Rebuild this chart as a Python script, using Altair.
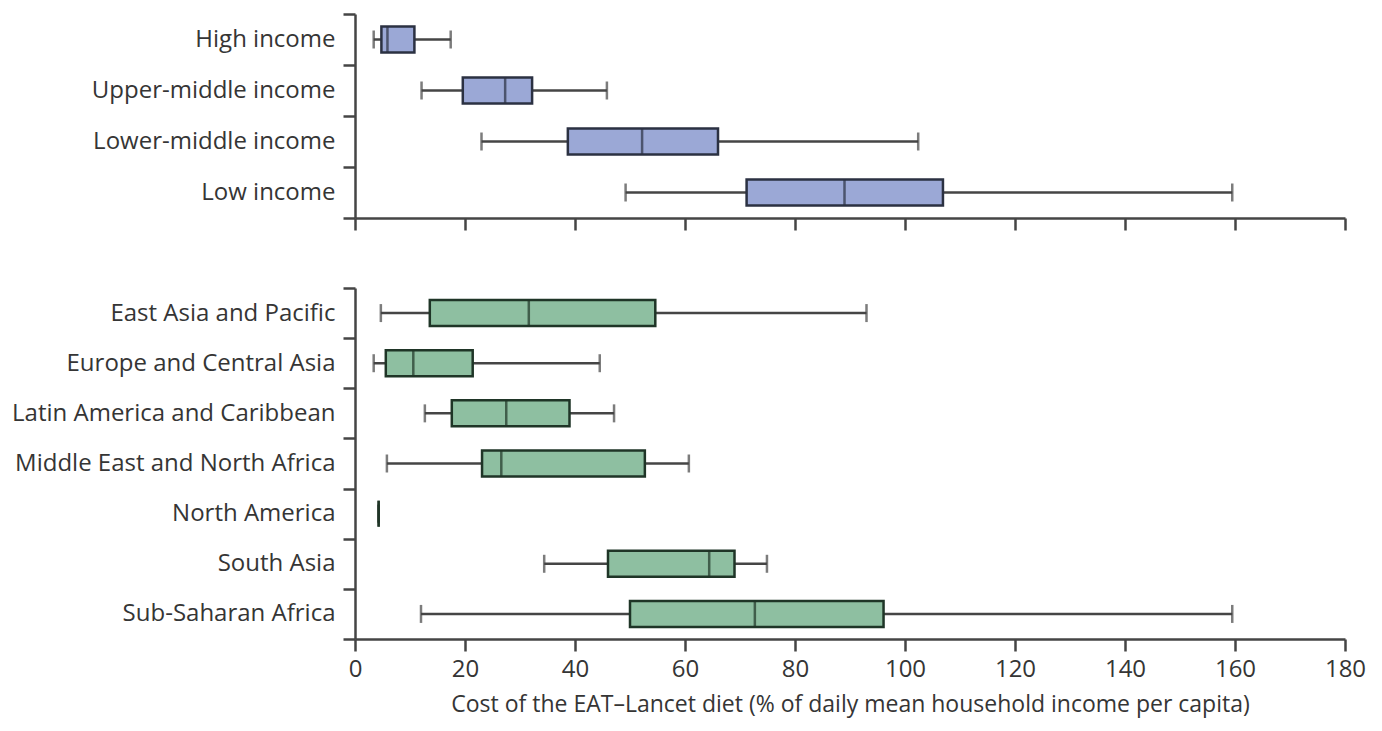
import altair as alt
import pandas as pd

# Income groups (top panel)
income_groups = ["High income", "Upper-middle income", "Lower-middle income", "Low income"]
income_min = [3.4, 12.1, 23.0, 49.2]
income_q1 = [4.8, 19.6, 38.7, 71.2]
income_med = [5.9, 27.3, 52.2, 89.0]
income_q3 = [10.8, 32.2, 66.0, 106.9]
income_max = [17.4, 45.8, 102.4, 159.5]

# World regions (bottom panel)
regions = ["East Asia and Pacific", "Europe and Central Asia", "Latin America and Caribbean",
           "Middle East and North Africa", "North America", "South Asia", "Sub-Saharan Africa"]
region_min = [4.7, 3.4, 12.7, 5.8, 4.3, 34.4, 12.0]
region_q1 = [13.6, 5.6, 17.6, 23.1, 4.3, 46.0, 50.0]
region_med = [31.6, 10.6, 27.5, 26.6, 4.3, 64.4, 72.7]
region_q3 = [54.6, 21.4, 39.0, 52.7, 4.3, 69.0, 96.1]
region_max = [93.0, 44.5, 47.1, 60.7, 4.3, 74.9, 159.5]

x_ticks = [0, 20, 40, 60, 80, 100, 120, 140, 160, 180]
x_title = "Cost of the EAT\u2013Lancet diet (% of daily mean household income per capita)"

FONT = "Open Sans"
TEXT = "#353535"
LINE = "#454545"


def make_df(cats, mn, q1, med, q3, mx):
    return pd.DataFrame({"cat": cats, "lo": mn, "q1": q1, "med": med, "q3": q3, "hi": mx})


def panel(df, cats, fill, stroke, height, bottom):
    if bottom:
        axis = alt.Axis(values=x_ticks, labels=True, title=x_title,
                        labelPadding=6, titlePadding=12, labelFlush=False)
    else:
        axis = alt.Axis(values=x_ticks, labels=False, title=None)
    scale = alt.Scale(domain=[0, 180], nice=False)

    def xe(f):
        return alt.X(f"{f}:Q", scale=scale, axis=axis)

    y = alt.Y("cat:N", sort=cats, scale=alt.Scale(paddingInner=0, paddingOuter=0),
              axis=alt.Axis(title=None, tickBand="extent", labelPadding=8,
                            labelLimit=0, labelFontSize=24, minExtent=347))
    base = alt.Chart(df)
    whisk = base.mark_rule(color=LINE, strokeWidth=2.5).encode(x=xe("lo"), x2="hi:Q", y=y)
    cap_lo = base.mark_tick(color=LINE, thickness=2.5, size=18).encode(x=xe("lo"), y=y)
    cap_hi = base.mark_tick(color=LINE, thickness=2.5, size=18).encode(x=xe("hi"), y=y)
    box = base.mark_bar(size=26, fill=fill, stroke=stroke, strokeWidth=2.5).encode(
        x=xe("q1"), x2="q3:Q", y=y)
    med = base.mark_tick(color=stroke, thickness=2.5, size=26).encode(x=xe("med"), y=y)
    return alt.layer(whisk, cap_lo, cap_hi, box, med).properties(width=990, height=height)


top = panel(make_df(income_groups, income_min, income_q1, income_med, income_q3, income_max),
            income_groups, "#9ba8d6", "#2b3142", 204, False)
bottom = panel(make_df(regions, region_min, region_q1, region_med, region_q3, region_max),
               regions, "#8ebfa1", "#1f3527", 351, True)

chart = alt.vconcat(top, bottom, spacing=44).properties(
    padding={"left": 0, "top": -6, "right": 0, "bottom": 7},
    background="white",
).configure_view(stroke=None).configure_axis(
    grid=False,
    domainColor=LINE,
    domainWidth=2.5,
    tickColor=LINE,
    tickWidth=2.5,
    tickSize=12,
    labelFont=FONT,
    labelFontSize=24,
    labelColor=TEXT,
    titleFont=FONT,
    titleFontSize=23,
    titleFontWeight="normal",
    titleColor=TEXT,
)

chart.save("out.html", embed_options={"renderer": "svg", "actions": False})
